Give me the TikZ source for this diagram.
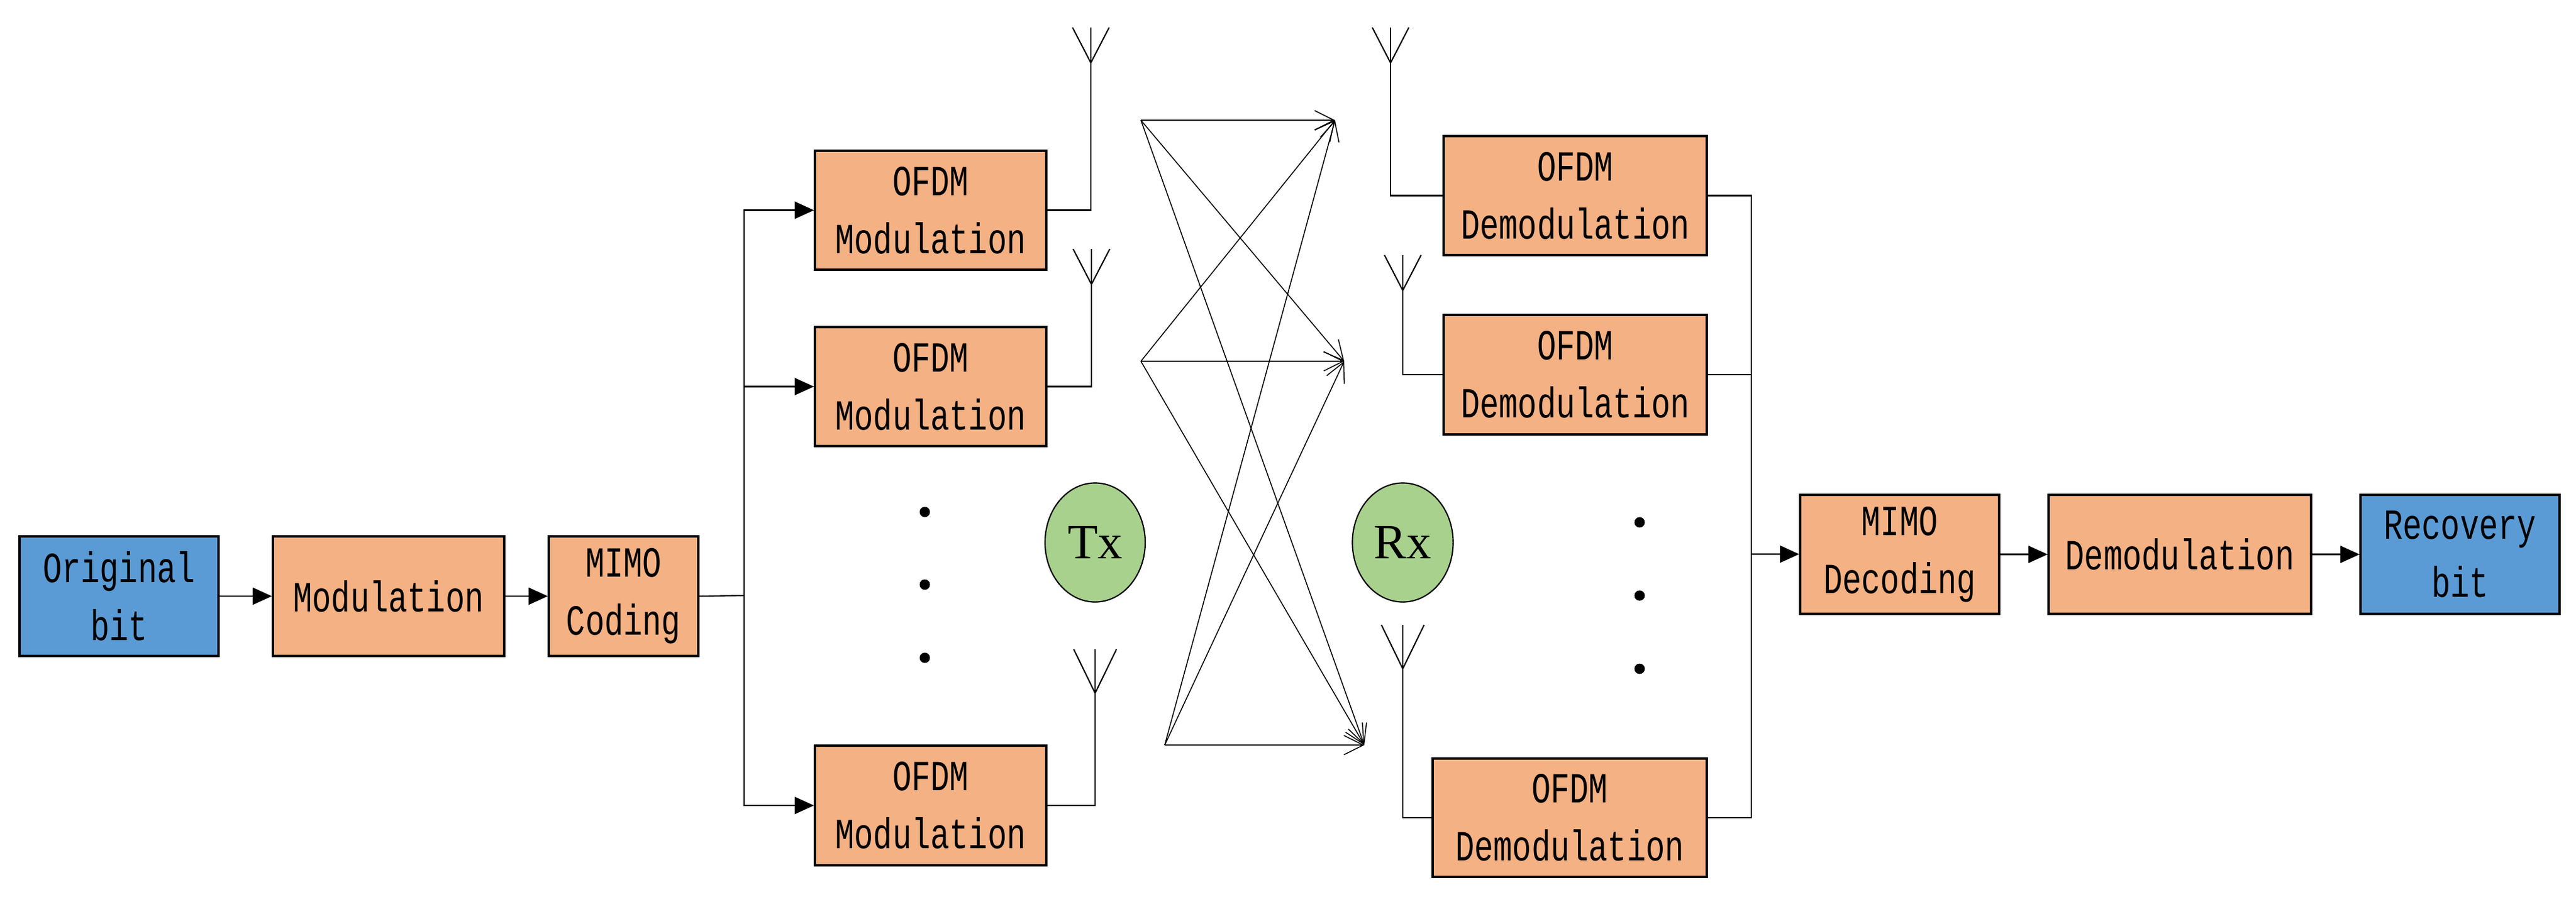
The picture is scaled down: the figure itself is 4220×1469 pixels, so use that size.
\documentclass[tikz,border=0pt]{standalone}
\usepackage{fontspec}
\setmainfont{Liberation Serif}
\newfontfamily\boxfont{Liberation Mono}[FakeStretch=0.74]
\usetikzlibrary{arrows.meta,shapes.geometric}
\definecolor{org}{HTML}{F4B183}
\definecolor{blu}{HTML}{5B9BD5}
\definecolor{grn}{HTML}{A9D18E}
\begin{document}
\begin{tikzpicture}[x=0.01cm,y=-0.01cm,
  box/.style={draw,line width=0.9pt,fill=org,inner sep=0pt,align=center,font=\boxfont\fontsize{20}{27}\selectfont},
  bbox/.style={box,fill=blu},
  arr/.style={line width=0.7pt,-{Triangle[length=9pt,width=8pt]}},
  ln/.style={line width=0.6pt},
  ray/.style={line width=0.45pt,-{Straight Barb[length=9pt,width=9pt]}},
  ell/.style={draw,line width=0.6pt,fill=grn,ellipse,inner sep=0pt,font=\fontsize{23}{26}\selectfont},
  dot/.style={fill=black,circle,inner sep=0pt,minimum size=0.17cm}]
\useasboundingbox (0,0) rectangle (4220,1469);
\newcommand{\bx}[5]{\node[#1,minimum width={(#3-#2)*0.01cm},minimum height={(#5-#4)*0.01cm}] at ({(#2+#3)/2},{(#4+#5)/2})}
\bx{bbox}{32}{358}{879}{1075} (orig) {Original\\bit};
\bx{box}{447}{826}{879}{1075} (mod) {Modulation};
\bx{box}{899}{1144}{879}{1075} (mimo) {MIMO\\Coding};
\bx{box}{1335}{1714}{247}{442} (o1) {OFDM\\Modulation};
\bx{box}{1335}{1714}{536}{731} (o2) {OFDM\\Modulation};
\bx{box}{1335}{1714}{1222}{1418} (o3) {OFDM\\Modulation};
\bx{box}{2365}{2796}{223}{418} (d1) {OFDM\\Demodulation};
\bx{box}{2365}{2796}{516}{712} (d2) {OFDM\\Demodulation};
\bx{box}{2347}{2796}{1243}{1437} (d3) {OFDM\\Demodulation};
\bx{box}{2949}{3275}{811}{1006} (dec) {MIMO\\Decoding};
\bx{box}{3356}{3786}{811}{1006} (dem) {Demodulation};
\bx{bbox}{3867}{4193}{811}{1006} (rec) {Recovery\\bit};

\draw[arr] (orig) -- (mod);
\draw[arr] (mod) -- (mimo);
\coordinate (br) at (1219,976);
\draw[ln] (mimo.east) -- (br);
\draw[arr] (br) |- (o1.west);
\draw[arr] (br) |- (o2.west);
\draw[arr] (br) |- (o3.west);

% Tx antennas
\coordinate (a1) at (1787,103); \coordinate (a2) at (1788,466); \coordinate (a3) at (1794,1136);
\draw[ln] (o1.east) -| (a1) -- ++(0,-58); \draw[ln] (a1) -- ++(-30,-58); \draw[ln] (a1) -- ++(30,-58);
\draw[ln] (o2.east) -| (a2) -- ++(0,-58); \draw[ln] (a2) -- ++(-30,-58); \draw[ln] (a2) -- ++(30,-58);
\draw[ln] (o3.east) -| (a3) -- ++(0,-72); \draw[ln] (a3) -- ++(-35,-72); \draw[ln] (a3) -- ++(35,-72);
% Rx antennas
\coordinate (r1) at (2278,103); \coordinate (r2) at (2298,476); \coordinate (r3) at (2298,1096);
\draw[ln] (d1.west) -| (r1) -- ++(0,-58); \draw[ln] (r1) -- ++(-30,-58); \draw[ln] (r1) -- ++(30,-58);
\draw[ln] (d2.west) -| (r2) -- ++(0,-58); \draw[ln] (r2) -- ++(-30,-58); \draw[ln] (r2) -- ++(30,-58);
\draw[ln] (d3.west) -| (r3) -- ++(0,-72); \draw[ln] (r3) -- ++(-35,-72); \draw[ln] (r3) -- ++(35,-72);

% collector
\coordinate (cl) at (2869,908);
\draw[ln] (d1.east) -| (cl);
\draw[ln] (d2.east) -| (cl);
\draw[ln] (d3.east) -| (cl);
\draw[arr] (cl) -- (dec);
\draw[arr] (dec) -- (dem);
\draw[arr] (dem) -- (rec);

% Tx/Rx
\node[ell,minimum width=1.64cm,minimum height=1.95cm] (tx) at (1794,889) {Tx};
\node[ell,minimum width=1.65cm,minimum height=1.95cm] (rx) at (2298,889) {Rx};
\node[dot] (p1) at (1515,839) {}; \node[dot] (p2) at (1515,958) {}; \node[dot] (p3) at (1515,1078) {};
\node[dot] (q1) at (2686,856) {}; \node[dot] (q2) at (2686,976) {}; \node[dot] (q3) at (2686,1096) {};

% crossing rays
\coordinate (s1) at (1869,197); \coordinate (s2) at (1869,592); \coordinate (s3) at (1908,1221);
\coordinate (t1) at (2187,197); \coordinate (t2) at (2202,592); \coordinate (t3) at (2235,1221);
\foreach \s in {s1,s2,s3}{\foreach \t in {t1,t2,t3}{\draw[ray] (\s) -- (\t);}}
\end{tikzpicture}
\end{document}
